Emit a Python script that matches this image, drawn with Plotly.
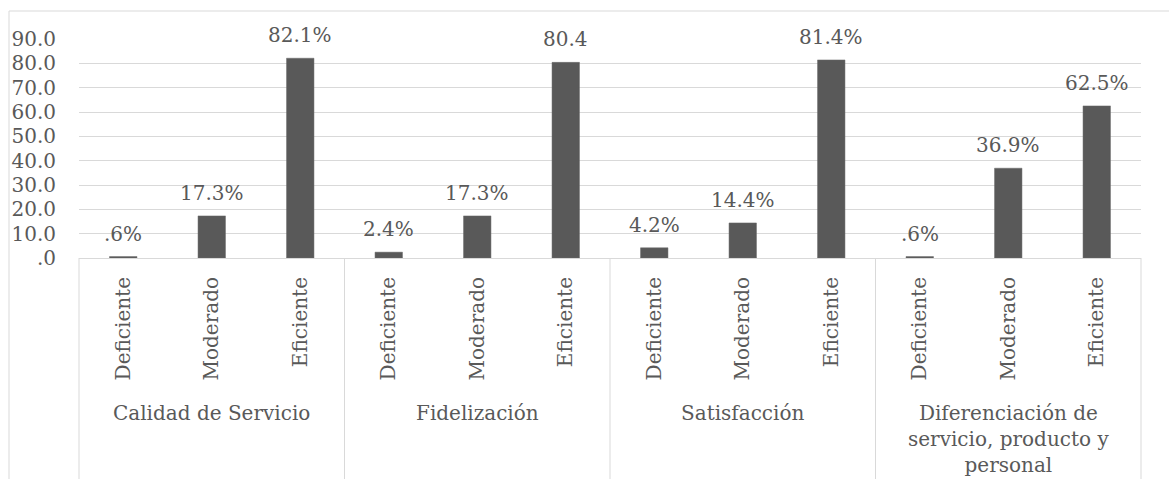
import plotly.graph_objects as go

# Dimensions and rating levels
groups = [
    "Calidad de Servicio",
    "Fidelización",
    "Satisfacción",
    "Diferenciación de<br>servicio, producto y<br>personal",
]
levels = ["Deficiente", "Moderado", "Eficiente"]

# Percentage of respondents per dimension and level
calidad = [0.6, 17.3, 82.1]
fidelizacion = [2.4, 17.3, 80.4]
satisfaccion = [4.2, 14.4, 81.4]
diferenciacion = [0.6, 36.9, 62.5]

# Unit shown after each value label
label_suffix = ["%", "%", "%", "%", "%", "", "%", "%", "%", "%", "%", "%"]

y_tick_values = [0, 10, 20, 30, 40, 50, 60, 70, 80, 90]
y_tick_labels = [".0", "10.0", "20.0", "30.0", "40.0", "50.0", "60.0", "70.0", "80.0", "90.0"]

series = [calidad, fidelizacion, satisfaccion, diferenciacion]

keys, values, tick_text = [], [], []
for g, vals in zip(groups, series):
    for lev, v in zip(levels, vals):
        keys.append(f"{g}|{lev}")
        values.append(v)
        tick_text.append(lev)


def fmt(v, suffix):
    s = f"{v:.1f}"
    if s.startswith("0"):
        s = s[1:]
    return s + suffix


FONT = "DejaVu Serif"
TXT = "#595959"
GRID = "#d9d9d9"
FS = 20

W, H = 1169, 479
L, R, T, B = 79, 28, 39, 221
pw, ph = W - L - R, H - T - B

fig = go.Figure(
    go.Bar(
        x=keys,
        y=values,
        width=0.31,
        marker=dict(color="#595959", line=dict(color="#6a6a6a", width=0.5)),
        hoverinfo="skip",
    )
)

# value labels above bars
for k, v, suf in zip(keys, values, label_suffix):
    fig.add_annotation(
        x=k, y=v, xref="x", yref="y",
        text=fmt(v, suf), showarrow=False,
        yanchor="middle", yshift=23,
        font=dict(family=FONT, size=FS, color=TXT),
    )

# group labels centred under each block of three bars
n = len(keys)
for gi, g in enumerate(groups):
    multi = "<br>" in g
    fig.add_annotation(
        x=keys[gi * 3 + 1], xref="x",
        y=(258 - 413) / ph, yref="paper",
        text=g, showarrow=False,
        yanchor="top" if multi else "middle",
        yshift=14 if multi else 0,
        font=dict(family=FONT, size=FS, color=TXT),
    )

# vertical dividers between groups
for gi in range(len(groups) + 1):
    xp = gi * 3 / n
    fig.add_shape(
        type="line", xref="paper", yref="paper",
        x0=xp, x1=xp, y0=0, y1=-1.5,
        line=dict(color=GRID, width=1),
    )

# chart frame
fig.add_shape(
    type="rect", xref="paper", yref="paper",
    x0=(9 - L) / pw, x1=1.2, y0=(H - B - 11) / ph, y1=-1.5,
    line=dict(color=GRID, width=1),
    fillcolor="rgba(0,0,0,0)", layer="below",
)

fig.update_layout(
    width=W, height=H,
    margin=dict(l=L, r=R, t=T, b=B, pad=0),
    paper_bgcolor="white", plot_bgcolor="white",
    showlegend=False,
    font=dict(family=FONT, size=FS, color=TXT),
    bargap=0.69,
)
fig.update_xaxes(
    type="category",
    tickmode="array", tickvals=keys, ticktext=tick_text,
    tickangle=-90, ticks="", ticklabelstandoff=10,
    showline=True, linecolor=GRID, linewidth=1,
    showgrid=False, range=[-0.5, n - 0.5],
    tickfont=dict(family=FONT, size=FS, color=TXT),
)
fig.update_yaxes(
    range=[0, 90],
    tickmode="array", tickvals=y_tick_values, ticktext=y_tick_labels,
    ticks="", ticklabelstandoff=22,
    showgrid=True, gridcolor=GRID, gridwidth=1,
    zeroline=False, showline=False,
    tickfont=dict(family=FONT, size=FS, color=TXT),
)

fig.write_html("out.html")
